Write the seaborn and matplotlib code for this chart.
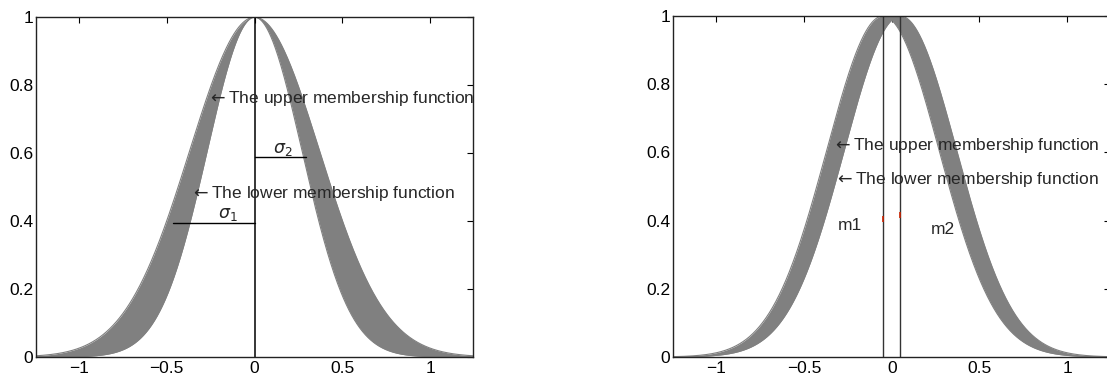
import numpy as np
import pandas as pd
import matplotlib
matplotlib.use("Agg")
import matplotlib.pyplot as plt
import seaborn as sns

# Interval type-2 Gaussian membership functions
# Left: fixed mean, uncertain standard deviation [sigma_1, sigma_2]
left_mean = 0.0
left_sigmas = [0.27, 0.37]          # lower MF sigma, upper MF sigma
sigma1_bar = [-0.467, 0.0, 0.395]   # x from, x to, height
sigma2_bar = [0.0, 0.29, 0.588]

# Right: fixed standard deviation, uncertain mean [m1, m2]
right_means = [-0.05, 0.05]
right_sigma = 0.32
mean_marker_y = [0.405, 0.415]

x_ticks = [-1, -0.5, 0, 0.5, 1]
x_ticklabels = ["\u22121", "\u22120.5", "0", "0.5", "1"]
y_ticks = [0, 0.2, 0.4, 0.6, 0.8, 1]
y_ticklabels = ["0", "0.2", "0.4", "0.6", "0.8", "1"]

sns.set_style("white")
plt.rcParams["font.family"] = ["Liberation Sans", "DejaVu Sans"]
plt.rcParams["mathtext.fontset"] = "dejavusans"

BAND = "#808080"
FS = 12.5
ARROW = r"$\leftarrow$"

x = np.linspace(-1.25, 1.25, 801)


def gauss(xv, m, s):
    return np.exp(-0.5 * ((xv - m) / s) ** 2)


fig = plt.figure(figsize=(11.07, 3.78), dpi=100)
ax1 = fig.add_axes([0.0325, 0.0556, 0.395, 0.899])
ax2 = fig.add_axes([0.608, 0.0556, 0.395, 0.902])

# ---- left panel: uncertain sigma ----
lower_l = gauss(x, left_mean, left_sigmas[0])
upper_l = gauss(x, left_mean, left_sigmas[1])
df_l = pd.DataFrame({"x": np.concatenate([x, x]),
                     "mu": np.concatenate([lower_l, upper_l]),
                     "mf": ["lower"] * len(x) + ["upper"] * len(x)})
ax1.fill_between(x, lower_l, upper_l, color=BAND, lw=0)
sns.lineplot(data=df_l, x="x", y="mu", units="mf", estimator=None,
             color=BAND, lw=0.8, ax=ax1, legend=False)
ax1.plot([left_mean, left_mean], [0, 1], color="black", lw=1.1)
ax1.plot(sigma1_bar[:2], [sigma1_bar[2]] * 2, color="black", lw=1.0)
ax1.plot(sigma2_bar[:2], [sigma2_bar[2]] * 2, color="black", lw=1.0)
ax1.text(-0.15, 0.42, r"$\sigma_1$", fontsize=FS, ha="center", va="center")
ax1.text(0.16, 0.61, r"$\sigma_2$", fontsize=FS, ha="center", va="center")
ax1.text(-0.27, 0.76, ARROW + "The upper membership function", fontsize=FS,
         va="center", ha="left", clip_on=True)
ax1.text(-0.37, 0.48, ARROW + "The lower membership function", fontsize=FS,
         va="center", ha="left")

# ---- right panel: uncertain mean ----
m1, m2 = right_means
g1 = gauss(x, m1, right_sigma)
g2 = gauss(x, m2, right_sigma)
upper_r = np.where(x < m1, g1, np.where(x > m2, g2, 1.0))
lower_r = np.minimum(g1, g2)
df_r = pd.DataFrame({"x": np.concatenate([x, x]),
                     "mu": np.concatenate([lower_r, upper_r]),
                     "mf": ["lower"] * len(x) + ["upper"] * len(x)})
ax2.fill_between(x, lower_r, upper_r, color=BAND, lw=0)
sns.lineplot(data=df_r, x="x", y="mu", units="mf", estimator=None,
             color=BAND, lw=0.8, ax=ax2, legend=False)
for m in right_means:
    ax2.plot([m, m], [0, 1], color="#333333", lw=1.0)
ax2.plot(right_means, mean_marker_y, ls="none", marker="|", ms=4,
         mew=1.2, color="#cc2200")
ax2.text(-0.24, 0.385, "m1", fontsize=FS, ha="center", va="center")
ax2.text(0.29, 0.373, "m2", fontsize=FS, ha="center", va="center")
ax2.text(-0.34, 0.62, ARROW + "The upper membership function", fontsize=FS,
         va="center", ha="left", clip_on=False)
ax2.text(-0.33, 0.52, ARROW + "The lower membership function", fontsize=FS,
         va="center", ha="left", clip_on=False)

for ax in (ax1, ax2):
    ax.set_xlim(-1.245, 1.245)
    ax.set_ylim(0, 1)
    ax.set_xticks(x_ticks)
    ax.set_xticklabels(x_ticklabels)
    ax.set_yticks(y_ticks)
    ax.set_yticklabels(y_ticklabels)
    ax.set_xlabel("")
    ax.set_ylabel("")
    ax.tick_params(direction="in", length=4, width=0.8, top=True, right=True,
                   labelsize=FS, pad=3, colors="black")
    ax.tick_params(axis="y", pad=2)
    for sp in ax.spines.values():
        sp.set_visible(True)
        sp.set_color("#222222")
        sp.set_linewidth(1.0)

fig.savefig("out.png", dpi=100, facecolor="white")
